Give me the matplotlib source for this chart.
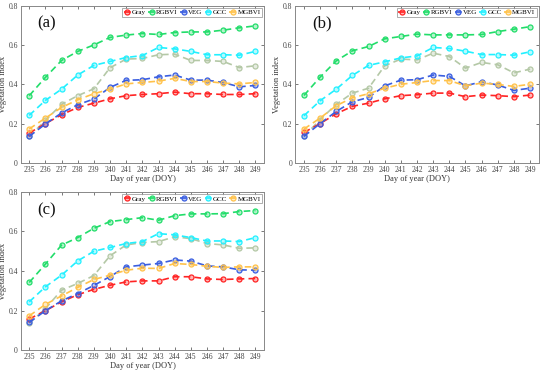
import numpy as np
import matplotlib
matplotlib.use("Agg")
import matplotlib.pyplot as plt

plt.rcParams['font.family'] = ['Liberation Serif', 'DejaVu Serif']

doy = np.arange(235, 250)
names = ['Gray', 'RGBVI', 'VEG', 'GCC', 'MGBVI']

# (a)
gray_a = [0.152, 0.200, 0.245, 0.282, 0.304, 0.326, 0.342, 0.348, 0.352, 0.360, 0.352, 0.352, 0.348, 0.348, 0.352]
rgbvi_a = [0.342, 0.435, 0.521, 0.567, 0.600, 0.638, 0.650, 0.658, 0.653, 0.663, 0.666, 0.666, 0.675, 0.687, 0.697]
veg_a = [0.135, 0.198, 0.254, 0.296, 0.325, 0.384, 0.420, 0.423, 0.438, 0.447, 0.421, 0.421, 0.409, 0.387, 0.394]
gcc_a = [0.242, 0.318, 0.375, 0.447, 0.496, 0.516, 0.536, 0.546, 0.587, 0.580, 0.567, 0.550, 0.550, 0.548, 0.567]
mgbvi_a = [0.173, 0.228, 0.282, 0.321, 0.352, 0.375, 0.402, 0.409, 0.416, 0.430, 0.414, 0.414, 0.406, 0.402, 0.409]
extra_a = [0.135, 0.216, 0.298, 0.342, 0.377, 0.484, 0.528, 0.531, 0.550, 0.553, 0.521, 0.521, 0.516, 0.485, 0.494]

# (b)
gray_b = [0.155, 0.200, 0.250, 0.288, 0.304, 0.326, 0.342, 0.347, 0.355, 0.355, 0.337, 0.345, 0.342, 0.337, 0.345]
rgbvi_b = [0.343, 0.436, 0.519, 0.570, 0.592, 0.631, 0.643, 0.655, 0.651, 0.651, 0.651, 0.653, 0.668, 0.680, 0.693]
veg_b = [0.135, 0.200, 0.262, 0.311, 0.333, 0.392, 0.421, 0.423, 0.447, 0.440, 0.392, 0.413, 0.396, 0.369, 0.380]
gcc_b = [0.240, 0.316, 0.375, 0.445, 0.496, 0.514, 0.534, 0.544, 0.587, 0.582, 0.568, 0.551, 0.551, 0.548, 0.565]
mgbvi_b = [0.172, 0.228, 0.291, 0.331, 0.352, 0.380, 0.400, 0.409, 0.419, 0.419, 0.392, 0.406, 0.399, 0.389, 0.400]
extra_b = [0.135, 0.220, 0.298, 0.355, 0.380, 0.494, 0.528, 0.524, 0.558, 0.541, 0.482, 0.511, 0.499, 0.458, 0.477]

# (c)
gray_c = [0.157, 0.199, 0.244, 0.280, 0.307, 0.328, 0.345, 0.350, 0.350, 0.371, 0.371, 0.360, 0.357, 0.360, 0.362]
rgbvi_c = [0.342, 0.435, 0.531, 0.569, 0.616, 0.650, 0.660, 0.670, 0.657, 0.680, 0.689, 0.689, 0.690, 0.701, 0.706]
veg_c = [0.140, 0.199, 0.249, 0.286, 0.327, 0.372, 0.421, 0.430, 0.438, 0.456, 0.450, 0.426, 0.421, 0.406, 0.404]
gcc_c = [0.244, 0.320, 0.379, 0.451, 0.500, 0.519, 0.539, 0.549, 0.589, 0.583, 0.569, 0.552, 0.552, 0.549, 0.569]
mgbvi_c = [0.173, 0.231, 0.274, 0.317, 0.357, 0.379, 0.404, 0.414, 0.413, 0.438, 0.433, 0.424, 0.418, 0.421, 0.421]
extra_c = [0.135, 0.210, 0.303, 0.337, 0.377, 0.477, 0.532, 0.544, 0.549, 0.573, 0.564, 0.539, 0.532, 0.515, 0.517]

panels = [
    ('(a)', [gray_a, rgbvi_a, veg_a, gcc_a, mgbvi_a], extra_a),
    ('(b)', [gray_b, rgbvi_b, veg_b, gcc_b, mgbvi_b], extra_b),
    ('(c)', [gray_c, rgbvi_c, veg_c, gcc_c, mgbvi_c], extra_c),
]

colors = ['#ff2424', '#22dd6a', '#3a5ee0', '#22f0ff', '#ffc24a']
extra_color = '#b4c8a6'

# axes boxes [left, bottom, width, height] in figure fractions
boxes = [
    [0.0376, 0.562, 0.443, 0.423],
    [0.537, 0.562, 0.443, 0.423],
    [0.0376, 0.059, 0.443, 0.425],
]

fig = plt.figure(figsize=(5.5, 3.72), dpi=100)

def draw(ax, y, c, label=None):
    ax.plot(doy, y, linestyle=(0, (4, 2.5)), color=c, linewidth=1.2,
            marker='o', markersize=3.6, markerfacecolor=c + '55',
            markeredgecolor=c, markeredgewidth=0.9, label=label)

for (tag, series, extra), box in zip(panels, boxes):
    ax = fig.add_axes(box)
    draw(ax, extra, extra_color)
    for nm, y, c in zip(names, series, colors):
        draw(ax, y, c, nm)
    ax.set_xlim(234.47, 249.55)
    ax.set_ylim(0, 0.8)
    ax.set_xticks(doy)
    ax.set_yticks([0, 0.2, 0.4, 0.6, 0.8])
    ax.set_yticklabels(['0', '0.2', '0.4', '0.6', '0.8'])
    ax.tick_params(direction='in', top=True, right=True, length=2, width=0.5,
                   labelsize=5.5, colors='#444444', pad=2)
    for s in ax.spines.values():
        s.set_color('#888888')
        s.set_linewidth(0.7)
    ax.set_xlabel('Day of year (DOY)', fontsize=6, color='#333333', labelpad=1)
    ax.set_ylabel('Vegetation index', fontsize=6, color='#333333')
    ax.yaxis.set_label_coords(-0.058, 0.5)
    ax.text(0.07, 0.86, tag, transform=ax.transAxes, fontsize=12, color='#111111')
    leg = ax.legend(loc='upper right', ncol=5, fontsize=5, frameon=True,
                    fancybox=False, borderaxespad=0.35, handlelength=1.0,
                    handletextpad=0.15, columnspacing=0.35, borderpad=0.2,
                    edgecolor='#888888')
    leg.get_frame().set_linewidth(0.6)

fig.savefig('out.png', dpi=100)
